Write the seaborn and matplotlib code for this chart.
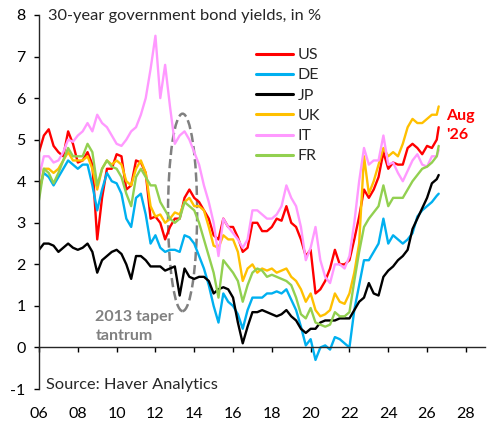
import numpy as np
import pandas as pd
import matplotlib
matplotlib.use('Agg')
import matplotlib.pyplot as plt
from matplotlib.patches import Ellipse
import seaborn as sns

# quarterly readings (plus the last Aug '26 point)
dates = list(np.arange(2006.0, 2026.51, 0.25)) + [2026.6]

us = [4.7, 5.1, 5.25, 4.85, 4.7, 4.6, 5.2, 4.9, 4.45, 4.5, 4.7, 4.4,
      2.6, 3.6, 4.3, 4.3, 4.65, 4.6, 3.8, 3.9, 4.5, 4.45, 4.2, 3.1,
      3.15, 3.0, 2.6, 2.9, 3.1, 3.1, 3.6, 3.8, 3.6, 3.5, 3.3, 3.1,
      2.7, 2.6, 3.1, 2.9, 2.9, 2.65, 2.3, 2.4, 3.0, 3.0, 2.8, 2.8,
      2.9, 3.1, 3.05, 3.4, 3.0, 2.9, 2.6, 2.2, 2.35, 1.3, 1.4, 1.6,
      1.9, 2.35, 2.0, 2.0, 2.1, 2.6, 3.15, 3.8, 3.6, 3.8, 4.1, 4.7,
      4.3, 4.45, 4.4, 4.4, 4.8, 4.9, 4.8, 4.65, 4.85, 4.8, 5.0, 5.3]
de = [3.8, 4.2, 4.1, 3.9, 4.1, 4.3, 4.5, 4.4, 4.3, 4.4, 4.4, 3.9,
      3.3, 3.8, 4.2, 4.0, 3.95, 3.7, 3.1, 2.9, 3.6, 3.7, 3.2, 2.5,
      2.7, 2.4, 2.3, 2.35, 2.35, 2.3, 2.7, 2.65, 2.5, 2.2, 1.9, 1.5,
      1.0, 0.6, 1.3, 1.1, 1.0, 0.8, 0.45, 0.9, 1.2, 1.2, 1.2, 1.3,
      1.3, 1.35, 1.3, 1.4, 1.15, 0.9, 0.5, 0.05, 0.2, -0.3, 0.0, 0.05,
      -0.05, 0.25, 0.2, 0.1, 0.0, 0.9, 1.5, 2.1, 2.1, 2.3, 2.5, 3.1,
      2.5, 2.7, 2.6, 2.5, 2.6, 2.75, 3.15, 3.3, 3.4, 3.5, 3.65, 3.7]
jp = [2.35, 2.5, 2.5, 2.45, 2.3, 2.4, 2.5, 2.4, 2.35, 2.4, 2.5, 2.3,
      1.8, 2.1, 2.2, 2.3, 2.35, 2.25, 2.0, 1.65, 2.2, 2.2, 2.1, 1.95,
      1.95, 1.95, 1.85, 1.9, 1.95, 1.25, 1.9, 1.7, 1.65, 1.7, 1.7, 1.6,
      1.3, 1.4, 1.45, 1.4, 1.2, 0.6, 0.1, 0.5, 0.85, 0.85, 0.9, 0.85,
      0.8, 0.75, 0.8, 0.9, 0.75, 0.65, 0.45, 0.35, 0.45, 0.45, 0.6, 0.65,
      0.65, 0.65, 0.7, 0.7, 0.7, 0.9, 1.1, 1.2, 1.55, 1.3, 1.25, 1.7,
      1.85, 1.95, 2.1, 2.2, 2.35, 2.85, 3.1, 3.35, 3.6, 3.95, 4.05, 4.15]
uk = [3.7, 4.3, 4.3, 4.2, 4.3, 4.5, 4.7, 4.5, 4.5, 4.5, 4.6, 4.3,
      3.8, 4.3, 4.5, 4.4, 4.5, 4.4, 4.0, 3.9, 4.3, 4.5, 4.2, 3.4,
      3.15, 3.2, 3.0, 3.1, 3.25, 3.2, 3.5, 3.6, 3.4, 3.4, 3.3, 2.9,
      2.45, 2.4, 2.7, 2.6, 2.6, 2.3, 1.6, 1.9, 2.0, 1.8, 1.9, 1.85,
      1.9, 1.8, 1.85, 1.9, 1.7, 1.6, 1.4, 1.1, 1.3, 0.9, 0.75, 0.8,
      0.9, 1.3, 1.1, 1.05, 1.3, 1.8, 2.5, 4.6, 3.7, 4.0, 4.4, 4.8,
      4.6, 4.7, 4.6, 4.9, 5.3, 5.5, 5.4, 5.4, 5.5, 5.6, 5.6, 5.8]
it = [4.1, 4.6, 4.6, 4.45, 4.5, 4.7, 5.0, 4.95, 5.1, 5.2, 5.4, 5.2,
      5.6, 5.4, 5.3, 5.1, 4.9, 4.85, 5.0, 5.2, 5.3, 5.6, 6.0, 6.7,
      7.5, 6.0, 6.8, 5.8, 4.9, 5.1, 5.2, 5.0, 4.7, 4.4, 3.9, 3.5,
      3.0, 2.2, 3.1, 2.9, 2.75, 2.6, 2.4, 2.6, 3.3, 3.3, 3.2, 3.1,
      3.1, 3.2, 3.4, 3.9, 3.6, 3.4, 2.9, 2.1, 2.4, 2.9, 2.1, 1.7,
      1.55, 2.0, 2.0, 1.9, 2.2, 3.0, 4.0, 4.8, 4.4, 4.5, 4.5, 5.1,
      4.4, 4.45, 4.2, 4.0, 4.25, 4.5, 4.65, 4.4, 4.35, 4.6, 4.6, 4.75]
fr = [3.55, 4.3, 4.2, 3.95, 4.2, 4.5, 4.8, 4.6, 4.6, 4.6, 4.9, 4.7,
      3.9, 4.3, 4.5, 4.35, 4.3, 4.1, 3.7, 3.4, 4.1, 4.3, 4.1, 3.9,
      3.9, 3.5, 3.3, 3.1, 3.0, 3.1, 3.5, 3.4, 3.3, 3.0, 2.6, 2.2,
      1.8, 1.2, 2.1, 1.95, 1.8, 1.6, 1.1, 1.5, 1.8, 1.9, 1.85, 1.7,
      1.75, 1.7, 1.65, 1.6, 1.5, 1.2, 0.8, 0.7, 0.95, 0.6, 0.55, 0.5,
      0.55, 0.85, 0.75, 0.75, 0.85, 1.6, 2.3, 2.9, 3.1, 3.25, 3.4, 3.9,
      3.4, 3.6, 3.6, 3.6, 3.8, 4.0, 4.15, 4.3, 4.35, 4.45, 4.6, 4.85]

countries = ['US', 'DE', 'JP', 'UK', 'IT', 'FR']
colors = ['#FF0000', '#00B0F0', '#000000', '#FFC000', '#FF99FF', '#92D050']
year_ticks = list(range(2006, 2029, 2))

frames = []
for name, vals in zip(countries, [us, de, jp, uk, it, fr]):
    frames.append(pd.DataFrame({'date': dates, 'yield': vals, 'country': name}))
df = pd.concat(frames, ignore_index=True)

sns.set_style('ticks')
plt.rcParams['font.family'] = ['Lato', 'DejaVu Sans']
plt.rcParams['axes.unicode_minus'] = False

fig = plt.figure(figsize=(4.92, 4.28), dpi=100)
ax = fig.add_axes([0.0793, 0.091, 0.907, 0.874])

sns.lineplot(data=df, x='date', y='yield', hue='country', hue_order=countries,
             palette=dict(zip(countries, colors)), linewidth=1.7, ax=ax)

ax.set_xlim(2006, 2029)
ax.set_ylim(-1, 8)
ax.set_xticks(year_ticks)
ax.set_xticklabels([f'{y % 100:02d}' for y in year_ticks])
ax.set_yticks(range(-1, 9))
ax.set_xlabel('')
ax.set_ylabel('')
ax.spines['top'].set_visible(False)
ax.spines['right'].set_visible(False)
ax.spines['bottom'].set_position(('data', 0))
ax.spines['left'].set_linewidth(1.0)
ax.spines['bottom'].set_linewidth(1.0)
ax.tick_params(axis='both', labelsize=11.5, length=3.6, width=1.0, colors='black')
ax.tick_params(axis='x', pad=39)
ax.tick_params(axis='y', pad=6)

leg = ax.legend(loc='upper left', bbox_to_anchor=(0.455, 0.95), frameon=False,
                fontsize=11.5, handlelength=2.3, handletextpad=0.3, labelspacing=0.38)
for line in leg.get_lines():
    line.set_linewidth(2.2)

ax.text(2006.45, 7.97, '30-year government bond yields, in %', fontsize=11.8,
        ha='left', va='center')
ax.text(2006.35, -0.9, 'Source: Haver Analytics', fontsize=11.8,
        ha='left', va='center')
ax.text(2027.0, 5.33, "Aug\n'26", color='#FF0000', fontsize=11.5,
        fontweight='bold', ha='left', va='center', linespacing=1.45)
ax.text(2008.9, 0.5, '2013 taper\ntantrum', color='#808080', fontsize=11.5,
        fontweight='bold', ha='left', va='center', linespacing=1.45)
ax.add_patch(Ellipse((2013.4, 3.25), 1.5, 4.75, fill=False, edgecolor='#808080',
                     linestyle='--', linewidth=1.8))

fig.savefig('out.png', dpi=100)
